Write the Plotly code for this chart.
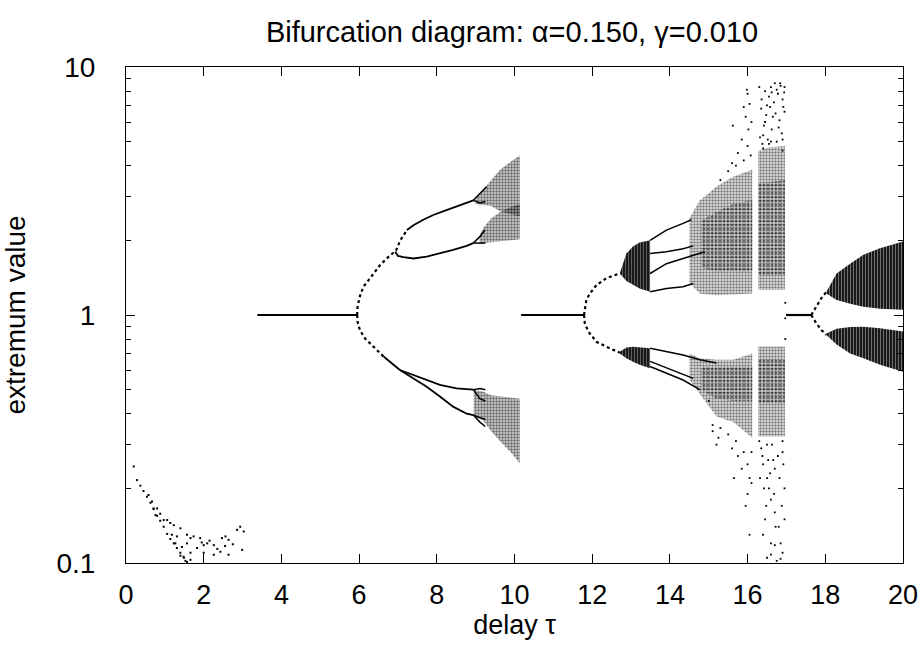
import plotly.graph_objects as go

# ---------------- data (tau, extremum value) ----------------
# small-delay scattered extrema
low_tau = [0.20, 0.28, 0.37, 0.45, 0.54, 0.63, 0.71, 0.80, 0.88, 0.97, 1.06, 1.14, 1.23, 1.31, 1.40, 1.49, 1.57,
           0.58, 0.67, 0.80, 0.76, 0.97, 1.14, 1.31, 1.18, 1.27, 1.44, 1.57, 1.66,
           0.71, 0.88, 1.06, 1.23, 1.40, 1.57, 1.74, 1.91, 2.09, 2.26, 2.47, 2.64, 2.86, 2.94, 3.03, 2.99, 2.56,
           1.48, 1.66, 2.00, 2.26, 2.43, 2.64, 1.83, 2.00, 1.53, 1.66, 1.40, 2.15, 2.35, 1.95, 2.55, 2.75]
low_val = [0.245, 0.216, 0.205, 0.195, 0.185, 0.175, 0.165, 0.155, 0.148, 0.140, 0.131, 0.125, 0.120, 0.115, 0.110, 0.105, 0.101,
           0.188, 0.177, 0.166, 0.156, 0.149, 0.145, 0.128, 0.130, 0.120, 0.116, 0.120, 0.126,
           0.166, 0.158, 0.149, 0.142, 0.138, 0.130, 0.128, 0.126, 0.120, 0.118, 0.126, 0.124, 0.136, 0.140, 0.134, 0.113, 0.128,
           0.106, 0.110, 0.110, 0.108, 0.111, 0.108, 0.115, 0.118, 0.102, 0.103, 0.107, 0.123, 0.114, 0.121, 0.117, 0.119]

# fixed-point segments (value 1)
fp1_tau = [3.38, 5.95]
fp1_val = [1.0, 1.0]
fp2_tau = [10.17, 11.79]
fp2_val = [1.0, 1.0]
fp3_tau = [16.99, 17.64]
fp3_val = [1.0, 1.0]

# first period-doubling cascade
p1_up_tau = [5.95, 5.96, 6.02, 6.11, 6.24, 6.37, 6.54, 6.71, 6.88, 6.95, 7.06, 7.14, 7.23]
p1_up_val = [1.0, 1.08, 1.19, 1.30, 1.38, 1.47, 1.59, 1.69, 1.78, 1.82, 2.00, 2.10, 2.20]
p1_lo_tau = [5.95, 5.96, 6.02, 6.15, 6.37, 6.63]
p1_lo_val = [1.0, 0.94, 0.87, 0.805, 0.745, 0.68]
b1_a_tau = [7.23, 7.40, 7.65, 7.91, 8.25, 8.60, 8.85, 8.94]
b1_a_val = [2.20, 2.30, 2.42, 2.53, 2.65, 2.78, 2.87, 2.90]
b1_b_tau = [6.93, 7.00, 7.14, 7.40, 7.74, 8.08, 8.42, 8.77, 8.94]
b1_b_val = [1.80, 1.73, 1.71, 1.69, 1.72, 1.77, 1.83, 1.90, 1.95]
b1_s_tau = [6.63, 6.88, 7.05]
b1_s_val = [0.68, 0.63, 0.60]
b1_c_tau = [7.05, 7.40, 7.74, 8.08, 8.51, 8.94]
b1_c_val = [0.60, 0.573, 0.547, 0.523, 0.506, 0.50]
b1_d_tau = [7.05, 7.40, 7.74, 8.08, 8.42, 8.77, 8.94]
b1_d_val = [0.60, 0.556, 0.514, 0.469, 0.427, 0.40, 0.395]
loops1 = [
    ([8.94, 9.11, 9.28], [2.90, 3.10, 3.29]),
    ([8.94, 9.11, 9.25], [2.90, 2.83, 2.87]),
    ([8.94, 9.11, 9.24], [1.95, 2.07, 2.20]),
    ([8.94, 9.11, 9.25], [1.95, 1.95, 1.95]),
    ([8.94, 9.11, 9.25], [0.50, 0.46, 0.45]),
    ([8.94, 9.11, 9.25], [0.50, 0.505, 0.50]),
    ([8.94, 9.11, 9.25], [0.395, 0.385, 0.38]),
    ([8.94, 9.11, 9.25], [0.395, 0.37, 0.355]),
]

# chaotic bands after first cascade
c1a_tau = [9.00, 9.20, 9.40, 9.63, 9.90, 10.14]
c1a_top = [2.95, 3.20, 3.50, 3.85, 4.15, 4.40]
c1a_bot = [2.80, 2.78, 2.75, 2.62, 2.55, 2.50]
c1b_tau = [9.10, 9.20, 9.40, 9.63, 9.90, 10.14]
c1b_top = [2.10, 2.25, 2.45, 2.60, 2.72, 2.80]
c1b_bot = [1.95, 1.95, 1.97, 1.98, 2.00, 2.02]
c1c_tau = [8.95, 9.20, 9.40, 9.63, 9.90, 10.14]
c1c_top = [0.50, 0.49, 0.475, 0.47, 0.465, 0.46]
c1c_bot = [0.40, 0.375, 0.34, 0.31, 0.28, 0.252]

# second cascade
p2_up_tau = [11.79, 11.81, 11.85, 11.94, 12.11, 12.37, 12.67, 12.71]
p2_up_val = [1.0, 1.06, 1.15, 1.22, 1.32, 1.41, 1.46, 1.47]
p2_lo_tau = [11.79, 11.81, 11.90, 12.11, 12.45, 12.67, 12.71]
p2_lo_val = [1.0, 0.925, 0.857, 0.78, 0.734, 0.711, 0.705]
d2_up_tau = [12.71, 12.88, 13.05, 13.22, 13.49]
d2_up_top = [1.47, 1.77, 1.89, 1.96, 2.00]
d2_up_bot = [1.47, 1.37, 1.32, 1.28, 1.24]
d2_lo_tau = [12.71, 12.88, 13.05, 13.22, 13.49]
d2_lo_top = [0.711, 0.74, 0.745, 0.742, 0.735]
d2_lo_bot = [0.700, 0.67, 0.648, 0.63, 0.61]
lines2 = [
    ([13.49, 13.91, 14.34, 14.55], [2.00, 2.20, 2.34, 2.42]),
    ([13.49, 13.91, 14.34, 14.60], [1.77, 1.80, 1.85, 1.90]),
    ([13.49, 13.91, 14.34, 14.90], [1.47, 1.61, 1.69, 1.80]),
    ([13.49, 13.91, 14.34, 14.60], [1.24, 1.28, 1.30, 1.34]),
    ([13.49, 14.34, 14.77, 15.20], [0.735, 0.69, 0.66, 0.64]),
    ([13.49, 14.34, 14.60], [0.65, 0.573, 0.555]),
    ([13.49, 14.34, 14.77], [0.62, 0.547, 0.50]),
]

# large chaotic region
c3a_tau = [14.50, 14.77, 15.00, 15.20, 15.63, 16.12]
c3a_top = [2.45, 2.90, 3.10, 3.30, 3.61, 3.85]
c3a_bot = [1.35, 1.22, 1.21, 1.20, 1.21, 1.22]
c3a_core_tau = [14.80, 15.20, 15.63, 16.12]
c3a_core_top = [2.40, 2.60, 2.80, 2.90]
c3a_core_bot = [1.55, 1.50, 1.50, 1.50]
c3b_tau = [16.27, 16.60, 16.96]
c3b_top = [4.60, 4.75, 4.80]
c3b_bot = [1.26, 1.26, 1.26]
c3b_core_tau = [16.27, 16.96]
c3b_core_top = [3.40, 3.50]
c3b_core_bot = [1.45, 1.45]
c3c_tau = [14.50, 14.77, 15.20, 15.63, 16.12]
c3c_top = [0.70, 0.67, 0.66, 0.66, 0.70]
c3c_bot = [0.55, 0.48, 0.39, 0.37, 0.32]
c3c_core_tau = [14.80, 15.20, 15.63, 16.12]
c3c_core_top = [0.62, 0.62, 0.62, 0.62]
c3c_core_bot = [0.50, 0.46, 0.45, 0.45]
c3d_tau = [16.27, 16.60, 16.96]
c3d_top = [0.746, 0.746, 0.746]
c3d_bot = [0.324, 0.324, 0.324]
c3d_core_tau = [16.27, 16.96]
c3d_core_top = [0.66, 0.66]
c3d_core_bot = [0.44, 0.44]

# sparse extrema far from the attractor core
sp_tau = [15.90, 16.00, 16.02, 15.95, 16.05, 16.00, 16.40, 16.45, 16.50, 16.55, 16.60, 16.70, 16.75, 16.85, 16.90,
          16.95, 16.65, 16.80, 16.90, 16.35, 16.45, 15.70, 15.50, 15.30, 16.60, 16.95,
          16.32, 16.38, 16.42, 16.48, 16.52, 16.58, 16.62, 16.68, 16.72, 16.78, 16.82, 16.88, 16.92, 16.94, 16.36,
          16.62, 16.84, 16.30, 15.60, 15.75, 15.85, 15.62, 15.90, 16.08, 15.98, 16.10, 16.55, 16.75, 16.90, 16.40,
          15.00, 15.10, 15.30, 15.50, 15.70, 15.90, 16.00, 16.05, 16.00, 15.95, 16.35, 16.40, 16.50, 16.55, 16.60,
          16.70, 16.80, 16.85, 16.60, 16.50, 16.75, 16.90, 16.95, 16.90, 16.70, 16.45, 16.05, 15.10, 15.20, 15.25,
          15.60, 15.75, 15.85, 16.10, 15.65, 16.10, 16.30, 16.38, 16.42, 16.48, 16.53, 16.58, 16.63, 16.68, 16.72,
          16.78, 16.82, 16.88, 16.92, 16.95, 16.60, 16.70, 16.85, 16.40, 16.50, 16.32, 16.90, 16.66,
          16.97, 16.97, 16.97]
sp_val = [4.20, 4.80, 5.60, 6.30, 7.10, 7.80, 5.30, 6.00, 7.00, 7.60, 8.30, 8.60, 8.10, 8.40, 7.40,
          6.60, 6.30, 5.70, 5.10, 6.80, 8.00, 4.00, 3.80, 3.50, 5.00, 8.30,
          5.20, 4.90, 5.80, 6.40, 5.10, 6.90, 5.60, 7.20, 6.50, 7.80, 6.10, 5.40, 6.90, 7.90, 7.40,
          7.90, 8.60, 8.30, 4.10, 4.50, 5.10, 5.80, 6.90, 4.40, 8.10, 6.00, 4.90, 5.00, 4.60, 4.70,
          0.45, 0.36, 0.35, 0.33, 0.31, 0.28, 0.25, 0.22, 0.19, 0.17, 0.29, 0.25, 0.22, 0.20, 0.18,
          0.16, 0.14, 0.12, 0.12, 0.105, 0.102, 0.11, 0.20, 0.28, 0.24, 0.15, 0.13, 0.34, 0.30, 0.32,
          0.29, 0.27, 0.24, 0.28, 0.22, 0.21, 0.31, 0.27, 0.20, 0.17, 0.26, 0.23, 0.30, 0.19, 0.14,
          0.27, 0.22, 0.17, 0.25, 0.15, 0.108, 0.118, 0.104, 0.13, 0.30, 0.22, 0.31, 0.26,
          0.97, 1.12, 0.80]

# third cascade (torus-like bands)
p3_up_tau = [17.64, 17.77, 17.90, 18.03]
p3_up_val = [1.0, 1.08, 1.17, 1.24]
p3_lo_tau = [17.64, 17.77, 17.90, 18.03]
p3_lo_val = [1.0, 0.925, 0.87, 0.83]
d4_up_tau = [18.03, 18.29, 18.64, 18.98, 19.41, 20.0]
d4_up_top = [1.24, 1.47, 1.61, 1.75, 1.86, 1.98]
d4_up_bot = [1.22, 1.15, 1.11, 1.08, 1.06, 1.05]
d4_lo_tau = [18.03, 18.29, 18.64, 18.98, 19.41, 20.0]
d4_lo_top = [0.843, 0.88, 0.895, 0.897, 0.885, 0.857]
d4_lo_bot = [0.830, 0.76, 0.70, 0.67, 0.63, 0.59]

x_ticks = [0, 2, 4, 6, 8, 10, 12, 14, 16, 18, 20]

# ---------------- figure ----------------
fig = go.Figure()
BLACK = "black"
CLOUD_BG = "rgba(0,0,0,0.16)"


def add_line(t, v, width=2.0, dash="solid"):
    fig.add_trace(go.Scatter(x=t, y=v, mode="lines", line=dict(color=BLACK, width=width, dash=dash),
                             hoverinfo="skip", showlegend=False))


def add_band(t, top, bot, shape=".", size=4, solidity=0.25, fg=BLACK, bg="rgba(0,0,0,0)"):
    xs = list(t) + list(reversed(t))
    ys = list(top) + list(reversed(bot))
    fig.add_trace(go.Scatter(x=xs, y=ys, mode="lines", line=dict(width=0, color="rgba(0,0,0,0)"),
                             fill="toself", fillcolor=bg,
                             fillpattern=dict(shape=shape, fgcolor=fg, bgcolor=bg,
                                              size=size, solidity=solidity),
                             hoverinfo="skip", showlegend=False))


def add_points(t, v, size=2.0):
    fig.add_trace(go.Scatter(x=t, y=v, mode="markers",
                             marker=dict(symbol="square", size=size, color=BLACK, line=dict(width=0)),
                             hoverinfo="skip", showlegend=False))


# chaotic bands (textured)
add_band(c1a_tau, c1a_top, c1a_bot, ".", 3, 0.5, BLACK, CLOUD_BG)
add_band(c1b_tau, c1b_top, c1b_bot, ".", 3, 0.5, BLACK, CLOUD_BG)
add_band(c1c_tau, c1c_top, c1c_bot, ".", 3, 0.5, BLACK, CLOUD_BG)
add_band(d2_up_tau, d2_up_top, d2_up_bot, "|", 3, 0.2, "white", "rgb(25,25,25)")
add_band(d2_lo_tau, d2_lo_top, d2_lo_bot, "|", 3, 0.2, "white", "rgb(25,25,25)")
add_band(c3a_tau, c3a_top, c3a_bot, ".", 3, 0.4, BLACK, CLOUD_BG)
add_band(c3a_core_tau, c3a_core_top, c3a_core_bot, ".", 4, 0.45)
add_band(c3b_tau, c3b_top, c3b_bot, ".", 3, 0.4, BLACK, CLOUD_BG)
add_band(c3b_core_tau, c3b_core_top, c3b_core_bot, ".", 4, 0.45)
add_band(c3c_tau, c3c_top, c3c_bot, ".", 3, 0.4, BLACK, CLOUD_BG)
add_band(c3c_core_tau, c3c_core_top, c3c_core_bot, ".", 4, 0.45)
add_band(c3d_tau, c3d_top, c3d_bot, ".", 3, 0.4, BLACK, CLOUD_BG)
add_band(c3d_core_tau, c3d_core_top, c3d_core_bot, ".", 4, 0.45)
add_band(d4_up_tau, d4_up_top, d4_up_bot, "|", 3, 0.25, "white", "rgb(25,25,25)")
add_band(d4_lo_tau, d4_lo_top, d4_lo_bot, "|", 3, 0.25, "white", "rgb(25,25,25)")

# periodic branches
for t, v in [(fp1_tau, fp1_val), (fp2_tau, fp2_val), (fp3_tau, fp3_val)]:
    add_line(t, v, 2.2)
for t, v in [(p1_up_tau, p1_up_val), (p1_lo_tau, p1_lo_val), (p2_up_tau, p2_up_val),
             (p2_lo_tau, p2_lo_val), (p3_up_tau, p3_up_val), (p3_lo_tau, p3_lo_val)]:
    add_line(t, v, 2.2, "dot")
for t, v in [(b1_a_tau, b1_a_val), (b1_b_tau, b1_b_val), (b1_s_tau, b1_s_val),
             (b1_c_tau, b1_c_val), (b1_d_tau, b1_d_val)]:
    add_line(t, v, 1.8)
for t, v in loops1 + lines2:
    add_line(t, v, 1.5)

add_points(low_tau, low_val, 2.0)
add_points(sp_tau, sp_val, 1.8)

FONT = "Liberation Sans, Arial, Helvetica, sans-serif"
fig.update_layout(
    width=921, height=652,
    margin=dict(l=126, r=18, t=67, b=89, autoexpand=False),
    paper_bgcolor="white", plot_bgcolor="white",
    font=dict(family=FONT, size=27, color=BLACK),
    title=dict(text="Bifurcation diagram: \u03b1=0.150, \u03b3=0.010", x=0.556, xanchor="center",
               y=0.951, yanchor="middle", font=dict(size=29)),
    showlegend=False,
)
fig.update_xaxes(
    range=[0, 20], tickvals=x_ticks, ticks="inside", ticklen=9, tickcolor=BLACK, automargin=False,
    showline=True, linecolor=BLACK, linewidth=1, mirror="allticks", showgrid=False, zeroline=False,
    title=dict(text="delay \u03c4", standoff=4, font=dict(size=27)), ticklabelstandoff=8,
)
fig.update_yaxes(
    type="log", range=[-1, 1], dtick=1, ticks="inside", ticklen=9, tickcolor=BLACK, automargin=False,
    showline=True, linecolor=BLACK, linewidth=1, mirror="allticks", showgrid=False, zeroline=False,
    minor=dict(dtick="D1", ticks="inside", ticklen=5, tickcolor=BLACK, showgrid=False),
    tickfont=dict(size=28),
    title=dict(text="extremum value", standoff=22, font=dict(size=28)), ticklabelstandoff=24,
)

fig.write_html("out.html", config={"displayModeBar": False},
               post_script="document.body.style.margin='0px';")
